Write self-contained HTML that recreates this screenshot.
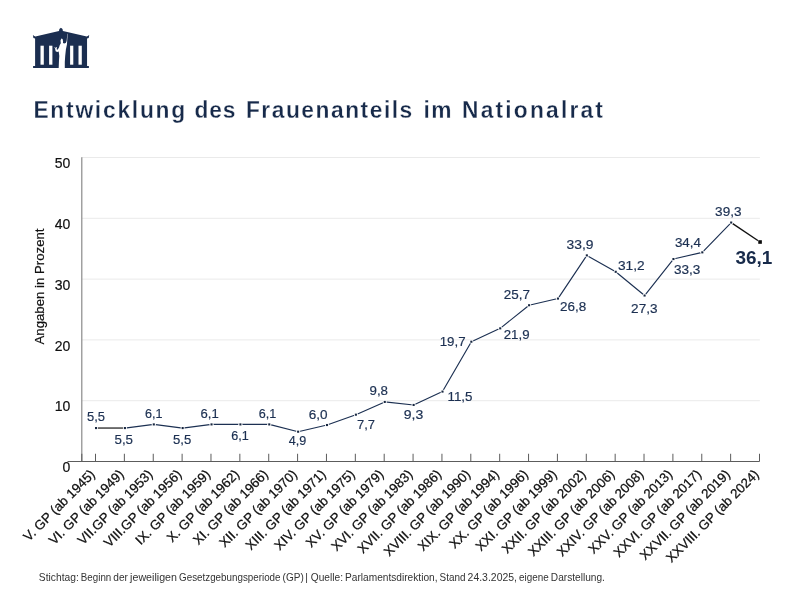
<!DOCTYPE html>
<html lang="de">
<head>
<meta charset="utf-8">
<title>Entwicklung des Frauenanteils im Nationalrat</title>
<style>
html,body{margin:0;padding:0;background:#fff;}
body{width:800px;height:600px;overflow:hidden;font-family:"Liberation Sans",sans-serif;}
svg{display:block;will-change:transform;}
text{font-family:"Liberation Sans",sans-serif;}
</style>
</head>
<body>
<svg width="800" height="600" viewBox="0 0 800 600">
<rect x="0" y="0" width="800" height="600" fill="#ffffff"/>
<g id="logo">
<path fill="#1b2e50" d="M33.1 67.9 L33.1 66.0 L35.1 66.0 L35.1 38.6 L33.4 38.0 L32.9 34.9 L34.3 35.9 L35.4 36.5 L59.0 30.9 L59.4 29.0 L60.96 27.7 L62.5 29.0 L62.9 30.9 L86.75 36.5 L87.8 35.9 L89.2 34.9 L88.7 38.0 L87.05 38.6 L87.05 66.0 L88.9 66.0 L88.9 67.9 Z"/>
<g fill="#ffffff">
<rect x="40.5" y="45.7" width="3.3" height="19.0"/>
<rect x="49.1" y="45.7" width="3.3" height="19.0"/>
<rect x="70.1" y="45.7" width="3.2" height="19.0"/>
<rect x="78.5" y="45.7" width="3.3" height="19.0"/>
<path d="M58.7 67.9 L59.0 60 L59.3 56 L58.7 51.5 L57.2 52.0 L55.6 51.2 L55.3 49.5 L54.5 47.0 L55.1 46.9 L55.8 48.6 L56.4 46.9 L57.0 47.1 L56.6 49.3 L57.6 49.8 L59.0 47.5 L59.8 45.0 L60.8 43.2 L60.5 40.5 L61.4 38.4 L62.6 38.9 L63.1 41.5 L63.0 43.0 L64.2 43.5 L65.7 43.1 L66.35 41.8 L66.7 40.5 L67.3 33.7 L67.65 33.7 L66.95 44.5 L65.9 49.5 L65.2 56 L64.8 62 L64.8 67.9 Z"/>
</g>
</g>
<g id="title" font-size="22.8" font-weight="bold" fill="#172a4a" stroke="#ffffff" stroke-width="0.28" transform="translate(0,118) scale(1,1.09) translate(0,-118)">
<text x="33.4" y="118" letter-spacing="1.767">Entwicklung</text>
<text x="194.4" y="118" letter-spacing="0.898">des</text>
<text x="245.9" y="118" letter-spacing="1.521">Frauenanteils</text>
<text x="423.6" y="118" letter-spacing="1.266">im</text>
<text x="462.1" y="118" letter-spacing="2.182">Nationalrat</text>
</g>
<g id="grid" stroke="#eaeaea" stroke-width="1">
<line x1="82" y1="400.70" x2="759.9" y2="400.70"/>
<line x1="82" y1="339.90" x2="759.9" y2="339.90"/>
<line x1="82" y1="279.10" x2="759.9" y2="279.10"/>
<line x1="82" y1="218.30" x2="759.9" y2="218.30"/>
<line x1="82" y1="157.50" x2="759.9" y2="157.50"/>
</g>
<g id="axes" fill="none">
<line x1="81.8" y1="157.20" x2="81.8" y2="462.0" stroke="#858585" stroke-width="1.15"/>
<line x1="67.5" y1="461.5" x2="759.5" y2="461.5" stroke="#5c5c5c" stroke-width="1"/>
</g>
<g id="ticks" stroke="#5c5c5c" stroke-width="1">
<line x1="81.8" y1="453.75" x2="81.8" y2="461.5"/>
<line x1="95.50" y1="453.75" x2="95.50" y2="461.5"/>
<line x1="124.37" y1="453.75" x2="124.37" y2="461.5"/>
<line x1="153.24" y1="453.75" x2="153.24" y2="461.5"/>
<line x1="182.11" y1="453.75" x2="182.11" y2="461.5"/>
<line x1="210.98" y1="453.75" x2="210.98" y2="461.5"/>
<line x1="239.85" y1="453.75" x2="239.85" y2="461.5"/>
<line x1="268.72" y1="453.75" x2="268.72" y2="461.5"/>
<line x1="297.59" y1="453.75" x2="297.59" y2="461.5"/>
<line x1="326.46" y1="453.75" x2="326.46" y2="461.5"/>
<line x1="355.33" y1="453.75" x2="355.33" y2="461.5"/>
<line x1="384.20" y1="453.75" x2="384.20" y2="461.5"/>
<line x1="413.07" y1="453.75" x2="413.07" y2="461.5"/>
<line x1="441.94" y1="453.75" x2="441.94" y2="461.5"/>
<line x1="470.81" y1="453.75" x2="470.81" y2="461.5"/>
<line x1="499.68" y1="453.75" x2="499.68" y2="461.5"/>
<line x1="528.55" y1="453.75" x2="528.55" y2="461.5"/>
<line x1="557.42" y1="453.75" x2="557.42" y2="461.5"/>
<line x1="586.29" y1="453.75" x2="586.29" y2="461.5"/>
<line x1="615.16" y1="453.75" x2="615.16" y2="461.5"/>
<line x1="644.03" y1="453.75" x2="644.03" y2="461.5"/>
<line x1="672.90" y1="453.75" x2="672.90" y2="461.5"/>
<line x1="701.77" y1="453.75" x2="701.77" y2="461.5"/>
<line x1="730.64" y1="453.75" x2="730.64" y2="461.5"/>
<line x1="759.51" y1="453.75" x2="759.51" y2="461.5"/>
</g>
<g id="ylabels" font-size="14" fill="#111111" stroke="#111111" stroke-width="0.2" text-anchor="end">
<text x="70.4" y="472.10">0</text>
<text x="70.4" y="411.30">10</text>
<text x="70.4" y="350.50">20</text>
<text x="70.4" y="289.70">30</text>
<text x="70.4" y="228.90">40</text>
<text x="70.4" y="168.10">50</text>
</g>
<text id="ytitle" transform="translate(44.4,344.5) rotate(-90)" font-size="13.7" fill="#111111" stroke="#111111" stroke-width="0.2" textLength="116" lengthAdjust="spacingAndGlyphs">Angaben in Prozent</text>
<g id="xlabels" font-size="13.3" fill="#111111" stroke="#111111" stroke-width="0.25" text-anchor="end">
<text transform="translate(95.75,475.1) rotate(-45)">V. GP (ab 1945)</text>
<text transform="translate(124.62,475.1) rotate(-45)">VI. GP (ab 1949)</text>
<text transform="translate(153.49,475.1) rotate(-45)">VII.GP (ab 1953)</text>
<text transform="translate(182.36,475.1) rotate(-45)">VIII.GP (ab 1956)</text>
<text transform="translate(211.23,475.1) rotate(-45)">IX. GP (ab 1959)</text>
<text transform="translate(240.10,475.1) rotate(-45)">X. GP (ab 1962)</text>
<text transform="translate(268.97,475.1) rotate(-45)">XI. GP (ab 1966)</text>
<text transform="translate(297.84,475.1) rotate(-45)">XII. GP (ab 1970)</text>
<text transform="translate(326.71,475.1) rotate(-45)">XIII. GP (ab 1971)</text>
<text transform="translate(355.58,475.1) rotate(-45)">XIV. GP (ab 1975)</text>
<text transform="translate(384.45,475.1) rotate(-45)">XV. GP (ab 1979)</text>
<text transform="translate(413.32,475.1) rotate(-45)">XVI. GP (ab 1983)</text>
<text transform="translate(442.19,475.1) rotate(-45)">XVII. GP (ab 1986)</text>
<text transform="translate(471.06,475.1) rotate(-45)">XVIII. GP (ab 1990)</text>
<text transform="translate(499.93,475.1) rotate(-45)">XIX. GP (ab 1994)</text>
<text transform="translate(528.80,475.1) rotate(-45)">XX. GP (ab 1996)</text>
<text transform="translate(557.67,475.1) rotate(-45)">XXI. GP (ab 1999)</text>
<text transform="translate(586.54,475.1) rotate(-45)">XXII. GP (ab 2002)</text>
<text transform="translate(615.41,475.1) rotate(-45)">XXIII. GP (ab 2006)</text>
<text transform="translate(644.28,475.1) rotate(-45)">XXIV. GP (ab 2008)</text>
<text transform="translate(673.15,475.1) rotate(-45)">XXV. GP (ab 2013)</text>
<text transform="translate(702.02,475.1) rotate(-45)">XXVI. GP (ab 2017)</text>
<text transform="translate(730.89,475.1) rotate(-45)">XXVII. GP (ab 2019)</text>
<text transform="translate(759.76,475.1) rotate(-45)">XXVIII. GP (ab 2024)</text>
</g>
<line x1="96.05" y1="428.06" x2="124.92" y2="428.06" stroke="#595959" stroke-width="1.7"/>
<polyline id="series" points="124.92,428.06 153.79,424.41 182.66,428.06 211.53,424.41 240.40,424.41 269.27,424.41 298.14,431.71 327.01,425.02 355.88,414.68 384.75,401.92 413.62,404.96 442.49,391.58 471.36,341.72 500.23,328.35 529.10,305.24 557.97,298.56 586.84,255.39 615.71,271.80 644.58,295.52 673.45,259.04 702.32,252.35 731.19,222.56" fill="none" stroke="#1c3052" stroke-width="1.15" stroke-linejoin="round"/>
<line x1="731.19" y1="222.56" x2="760.06" y2="242.01" stroke="#111111" stroke-width="1.4"/>
<g id="gaps" fill="#ffffff">
<circle cx="96.05" cy="428.06" r="2.1"/>
<circle cx="124.92" cy="428.06" r="2.1"/>
<circle cx="153.79" cy="424.41" r="2.1"/>
<circle cx="182.66" cy="428.06" r="2.1"/>
<circle cx="211.53" cy="424.41" r="2.1"/>
<circle cx="240.40" cy="424.41" r="2.1"/>
<circle cx="269.27" cy="424.41" r="2.1"/>
<circle cx="298.14" cy="431.71" r="2.1"/>
<circle cx="327.01" cy="425.02" r="2.1"/>
<circle cx="355.88" cy="414.68" r="2.1"/>
<circle cx="384.75" cy="401.92" r="2.1"/>
<circle cx="413.62" cy="404.96" r="2.1"/>
<circle cx="442.49" cy="391.58" r="2.1"/>
<circle cx="471.36" cy="341.72" r="2.1"/>
<circle cx="500.23" cy="328.35" r="2.1"/>
<circle cx="529.10" cy="305.24" r="2.1"/>
<circle cx="557.97" cy="298.56" r="2.1"/>
<circle cx="586.84" cy="255.39" r="2.1"/>
<circle cx="615.71" cy="271.80" r="2.1"/>
<circle cx="644.58" cy="295.52" r="2.1"/>
<circle cx="673.45" cy="259.04" r="2.1"/>
<circle cx="702.32" cy="252.35" r="2.1"/>
<circle cx="731.19" cy="222.56" r="2.1"/>
<circle cx="760.06" cy="242.01" r="2.6"/>
</g>
<g id="markers" fill="#17263f">
<rect x="95.00" y="427.01" width="2.1" height="2.1"/>
<rect x="123.87" y="427.01" width="2.1" height="2.1"/>
<rect x="152.74" y="423.36" width="2.1" height="2.1"/>
<rect x="181.61" y="427.01" width="2.1" height="2.1"/>
<rect x="210.48" y="423.36" width="2.1" height="2.1"/>
<rect x="239.35" y="423.36" width="2.1" height="2.1"/>
<rect x="268.22" y="423.36" width="2.1" height="2.1"/>
<rect x="297.09" y="430.66" width="2.1" height="2.1"/>
<rect x="325.96" y="423.97" width="2.1" height="2.1"/>
<rect x="354.83" y="413.63" width="2.1" height="2.1"/>
<rect x="383.70" y="400.87" width="2.1" height="2.1"/>
<rect x="412.57" y="403.91" width="2.1" height="2.1"/>
<rect x="441.44" y="390.53" width="2.1" height="2.1"/>
<rect x="470.31" y="340.67" width="2.1" height="2.1"/>
<rect x="499.18" y="327.30" width="2.1" height="2.1"/>
<rect x="528.05" y="304.19" width="2.1" height="2.1"/>
<rect x="556.92" y="297.51" width="2.1" height="2.1"/>
<rect x="585.79" y="254.34" width="2.1" height="2.1"/>
<rect x="614.66" y="270.75" width="2.1" height="2.1"/>
<rect x="643.53" y="294.47" width="2.1" height="2.1"/>
<rect x="672.40" y="257.99" width="2.1" height="2.1"/>
<rect x="701.27" y="251.30" width="2.1" height="2.1"/>
<rect x="730.14" y="221.51" width="2.1" height="2.1"/>
<rect x="758.26" y="240.21" width="3.6" height="3.6" fill="#0a0a0a"/>
</g>
<g id="datalabels" font-size="13.3" fill="#1c3052" stroke="#1c3052" stroke-width="0.2" text-anchor="middle">
<text x="96.00" y="421.25" textLength="18.0" lengthAdjust="spacingAndGlyphs">5,5</text>
<text x="123.75" y="443.7" textLength="18.5" lengthAdjust="spacingAndGlyphs">5,5</text>
<text x="153.75" y="418" textLength="17.5" lengthAdjust="spacingAndGlyphs">6,1</text>
<text x="182.12" y="443.7" textLength="18.2" lengthAdjust="spacingAndGlyphs">5,5</text>
<text x="209.62" y="418" textLength="18.2" lengthAdjust="spacingAndGlyphs">6,1</text>
<text x="240.00" y="439.95" textLength="17.5" lengthAdjust="spacingAndGlyphs">6,1</text>
<text x="267.50" y="417.7" textLength="17.5" lengthAdjust="spacingAndGlyphs">6,1</text>
<text x="297.50" y="445.2" textLength="17.5" lengthAdjust="spacingAndGlyphs">4,9</text>
<text x="318.12" y="419.2" textLength="18.8" lengthAdjust="spacingAndGlyphs">6,0</text>
<text x="366.00" y="429.2" textLength="18.0" lengthAdjust="spacingAndGlyphs">7,7</text>
<text x="378.75" y="395.0" textLength="18.5" lengthAdjust="spacingAndGlyphs">9,8</text>
<text x="413.50" y="419.2" textLength="19.5" lengthAdjust="spacingAndGlyphs">9,3</text>
<text x="460.00" y="400.6" textLength="25.0" lengthAdjust="spacingAndGlyphs">11,5</text>
<text x="452.68" y="345.6" textLength="25.9" lengthAdjust="spacingAndGlyphs">19,7</text>
<text x="516.62" y="339.2" textLength="25.8" lengthAdjust="spacingAndGlyphs">21,9</text>
<text x="516.88" y="299.2" textLength="26.2" lengthAdjust="spacingAndGlyphs">25,7</text>
<text x="573.12" y="310.95" textLength="26.2" lengthAdjust="spacingAndGlyphs">26,8</text>
<text x="580.10" y="249.2" textLength="27.0" lengthAdjust="spacingAndGlyphs">33,9</text>
<text x="631.25" y="270.09999999999997" textLength="26.7" lengthAdjust="spacingAndGlyphs">31,2</text>
<text x="644.30" y="313.3" textLength="26.4" lengthAdjust="spacingAndGlyphs">27,3</text>
<text x="687.20" y="273.7" textLength="26.4" lengthAdjust="spacingAndGlyphs">33,3</text>
<text x="687.95" y="247.29999999999998" textLength="26.1" lengthAdjust="spacingAndGlyphs">34,4</text>
<text x="728.30" y="216.3" textLength="26.4" lengthAdjust="spacingAndGlyphs">39,3</text>
<text x="753.95" y="264" font-size="18.2" font-weight="bold" fill="#172a4a" stroke="none" textLength="36.9" lengthAdjust="spacingAndGlyphs">36,1</text>
</g>
<g id="footer" font-size="10.4" fill="#333333">
<text x="38.85" y="580.6" textLength="39.90" lengthAdjust="spacingAndGlyphs">Stichtag:</text>
<text x="80.85" y="580.6" textLength="30.40" lengthAdjust="spacingAndGlyphs">Beginn</text>
<text x="113.35" y="580.6" textLength="14.65" lengthAdjust="spacingAndGlyphs">der</text>
<text x="130.10" y="580.6" textLength="46.90" lengthAdjust="spacingAndGlyphs">jeweiligen</text>
<text x="179.10" y="580.6" textLength="101.40" lengthAdjust="spacingAndGlyphs">Gesetzgebungsperiode</text>
<text x="282.60" y="580.6" textLength="21.15" lengthAdjust="spacingAndGlyphs">(GP)</text>
<text x="305.25" y="580.6">|</text>
<text x="310.85" y="580.6" textLength="32.15" lengthAdjust="spacingAndGlyphs">Quelle:</text>
<text x="345.10" y="580.6" textLength="92.40" lengthAdjust="spacingAndGlyphs">Parlamentsdirektion,</text>
<text x="439.60" y="580.6" textLength="25.90" lengthAdjust="spacingAndGlyphs">Stand</text>
<text x="467.60" y="580.6" textLength="49.40" lengthAdjust="spacingAndGlyphs">24.3.2025,</text>
<text x="519.10" y="580.6" textLength="29.65" lengthAdjust="spacingAndGlyphs">eigene</text>
<text x="550.85" y="580.6" textLength="54.05" lengthAdjust="spacingAndGlyphs">Darstellung.</text>
</g>
</svg>
</body>
</html>
